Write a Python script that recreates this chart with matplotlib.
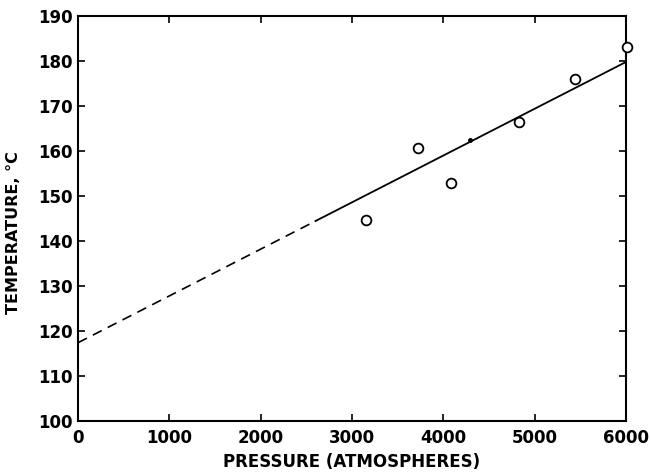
import numpy as np
import matplotlib.pyplot as plt

# measured points (pressure in atm, temperature in C)
pressure = [3150, 3720, 4080, 4830, 5440, 6010]
temperature = [144.6, 160.7, 153.0, 166.5, 175.9, 183.2]

# fitted line: dashed extrapolation then solid part
line_start = 117.4
line_end = 179.8
p_dash = [0, 2600]
p_solid = [2600, 6000]
small_dot = (4290, 162.4)

xticks = [0, 1000, 2000, 3000, 4000, 5000, 6000]
yticks = [100, 110, 120, 130, 140, 150, 160, 170, 180, 190]

def fit(p):
    return line_start + (line_end - line_start) * np.array(p) / 6000.0

fig = plt.figure(figsize=(6.51, 4.72), dpi=100)
ax = fig.add_axes([0.1198, 0.108, 0.8418, 0.858])

ax.plot(p_dash, fit(p_dash), color='black', lw=1.2, ls=(0, (6, 4)))
ax.plot(p_solid, fit(p_solid), color='black', lw=1.3)
ax.plot(pressure, temperature, 'o', mfc='white', mec='black', ms=7, mew=1.3, clip_on=False, zorder=3)
ax.plot([small_dot[0]], [small_dot[1]], 'o', color='black', ms=2.5)

ax.set_xlim(0, 6000)
ax.set_ylim(100, 190)
ax.set_xticks(xticks)
ax.set_yticks(yticks)
ax.tick_params(direction='in', top=True, right=True, length=5, width=1.2, labelsize=12)
ax.tick_params(axis='x', pad=6)
ax.tick_params(axis='y', pad=4)
for lab in ax.get_xticklabels() + ax.get_yticklabels():
    lab.set_fontweight('bold')
for s in ax.spines.values():
    s.set_linewidth(1.5)

ax.set_xlabel('PRESSURE (ATMOSPHERES)', fontsize=12, fontweight='bold', labelpad=4)
ax.set_ylabel('TEMPERATURE, °C', fontsize=11.5, fontweight='bold')
ax.yaxis.set_label_coords(-0.104, 0.465)

fig.savefig('out.png', dpi=100)
